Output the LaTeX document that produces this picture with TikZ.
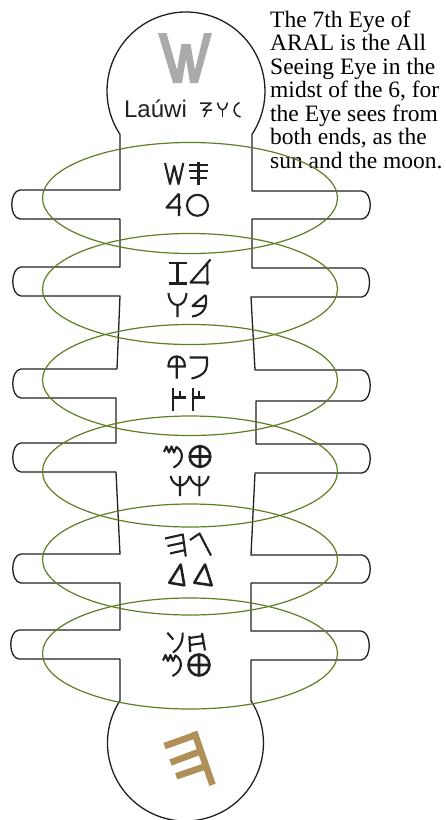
\documentclass[tikz,border=0pt]{standalone}
\usepackage{fontspec}
\setmainfont{Liberation Serif}
\newfontfamily\lsans{Liberation Sans}
\definecolor{ink}{RGB}{35,31,32}
\definecolor{ring}{RGB}{95,125,35}
\definecolor{wgray}{RGB}{170,170,170}
\definecolor{tanc}{RGB}{176,143,88}
\begin{document}
\begin{tikzpicture}[x=1pt,y=1pt,yscale=-1,
  outline/.style={draw=ink,line width=1.3pt,line join=round},
  eyering/.style={draw=ring,line width=1.2pt},
  gl/.style={draw=ink,line width=2.1pt,line join=round},
  glb/.style={draw=ink,line width=2.6pt,line join=round},
  tanbar/.style={draw=tanc,line width=6.6pt},
  txt/.style={anchor=base west,inner sep=0pt,font=\fontsize{23.5}{23.5}\selectfont}]
\useasboundingbox (0,0) rectangle (445,820);
% body outline
\draw[outline] (120,134.37) -- (120,190) -- (20,190) .. controls (9,191) and (9,218) .. (20,219) -- (120,219)
 -- (120,267) -- (21,267) .. controls (10,268) and (10,295) .. (21,296) -- (120,296)
 -- (117,369) -- (21,369) .. controls (10,370) and (10,397) .. (21,398) -- (116,398)
 -- (116,443) -- (21,443) .. controls (10,444) and (10,471) .. (21,472) -- (116,472)
 -- (120,554) -- (21,554) .. controls (10,555) and (10,582) .. (21,583) -- (120,583)
 -- (120,630) -- (19,630) .. controls (8,631) and (8,658) .. (19,659) -- (120,659)
 -- (120,700.63) arc[start angle=212.9,end angle=-32.9,radius=78]
 -- (251,660) -- (361,660) .. controls (372,659) and (372,632) .. (361,631) -- (251,631)
 -- (251,583) -- (362,583) .. controls (373,582) and (373,556) .. (362,555) -- (251,555)
 -- (255,473) -- (362,473) .. controls (373,472) and (373,445) .. (362,444) -- (256,444)
 -- (256,401) -- (362,401) .. controls (373,400) and (373,371) .. (362,370) -- (255,370)
 -- (251,297) -- (362,297) .. controls (372,296) and (372,269) .. (362,268) -- (252,268)
 -- (252,219) -- (362,219) .. controls (373,218) and (373,192) .. (362,191) -- (252,191)
 -- (252,134.37) arc[start angle=33.3,end angle=-213.3,radius=79] -- cycle;
% big grey W
\fill[wgray] (158,33) -- (166.5,33) -- (177,70) -- (181.5,44) -- (190.5,44) -- (195,70) -- (204,33) -- (212,33)
  -- (198,83) -- (190,83) -- (186,59) -- (182,83) -- (173,83) -- cycle;
\node[anchor=base,inner sep=0pt,font=\lsans\fontsize{24}{24}\selectfont,text=ink] (laname) at (155.5,117) {Laúwi};
% small glyphs after the name
\begin{scope}[draw=ink,line width=1.5pt,line join=round]
\draw (200,103) -- (211,103) -- (203,110) -- (212,110);
\draw (207.5,110) -- (204,117);
\draw (217.5,102.5) .. controls (218.5,107) and (220,109.5) .. (222.5,110) .. controls (225,109.5) and (226.5,107) .. (227.5,102.5);
\draw (222.5,110) -- (222.5,117);
\draw (239.5,102.5) .. controls (235,105) and (233.5,108) .. (234,111) .. controls (234.5,114) and (237,116) .. (240.5,117);
\end{scope}
% text
\node[txt] (t1) at (270,27) {The 7th Eye of};
\node[txt] (t2) at (270,50.5) {ARAL is the All};
\node[txt] (t3) at (270,74) {Seeing Eye in the};
\node[txt] (t4) at (270,97.5) {midst of the 6, for};
\node[txt] (t5) at (270,121) {the Eye sees from};
\node[txt] (t6) at (270,144.5) {both ends, as the};
\node[txt] (t7) at (270,168) {sun and the moon.};
% row 1
\draw[gl] (165,163) -- (170,184) -- (174.2,166) -- (178.5,184) -- (183.3,163);
\draw[gl] (198.5,162) -- (198.5,185) (189,165) -- (208,165) (189,171) -- (208,171) (190,178) -- (207,178);
\draw[gl] (179,193.5) -- (179,216) (179,193.5) -- (166.5,207.5) -- (181,207.5);
\draw[gl] (197.5,205.3) circle[radius=10.5];
% row 2
\draw[gl] (168.5,262.7) -- (186.5,262.7) (168.5,283.5) -- (186.5,283.5) (177.5,262.7) -- (177.5,283.5);
\draw[gl] (210.5,259.5) -- (190.5,282.5) -- (209,282.5) (207.3,262) -- (207.3,285);
\draw[gl] (168.5,293) .. controls (169,301) and (173,305) .. (177.5,305) .. controls (182,305) and (186,301) .. (186.5,293) (177.5,305) -- (177.5,317);
\draw[gl] (205.5,295) -- (192.5,306) -- (206.5,306) (205.5,295) .. controls (208,306) and (204,315) .. (192,316.5);
% row 3
\draw[gl] (168.3,366.5) .. controls (168.3,353) and (185,353) .. (185,366.5) -- cycle (176.7,356.5) -- (176.7,378.5);
\draw[gl] (189.5,357.5) -- (207,357.5) -- (207,365) .. controls (207,372) and (200,377) .. (191.5,378.5);
\foreach \xo in {173.3,192.7}{
  \draw[gl] (\xo,388) -- (\xo,411) (\xo,397.5) -- (\xo+6.5,397.5) -- (\xo+6.5,390.5) (\xo+6.5,397.5) -- (\xo+12.5,397.5);
}
% row 4
\draw[gl] (164,452) -- (166.5,446.5) -- (169,452.5) -- (171.5,446.5) -- (174,452.5) -- (176.5,447)
  .. controls (185,452) and (183,463) .. (173.5,467.5);
\draw[glb] (200,456.5) circle[radius=10.3] (189.7,456.5) -- (210.3,456.5) (200,446.2) -- (200,466.8);
\foreach \xc in {180,199.3}{
  \draw[gl] (\xc,476) -- (\xc,496) (\xc-9.5,476) .. controls (\xc-8,482) and (\xc-4,485.5) .. (\xc,485.5)
    .. controls (\xc+4,485.5) and (\xc+8,482) .. (\xc+9.5,476);
}
% row 5
\draw[gl] (182.7,534) -- (185.8,556.5) (165,538.5) -- (183.2,534.4) (167.5,546) -- (184.3,542.5) (170,553.5) -- (185.4,550);
\draw[gl] (190,540) -- (199.5,533.5) -- (211,555.5);
\draw[glb] (180.7,564.5) -- (169.3,582.7) -- (184.3,585.3) -- cycle;
\draw[glb] (205,564.5) -- (194.3,582.7) -- (211.7,585.3) -- cycle;
% row 6
\draw[gl] (167.3,632.7) -- (173.3,639.5) (182.7,632.7) .. controls (183,642) and (179,649) .. (173,652.5);
\draw[gl] (189.3,636) -- (190.3,652) (202,633) -- (205,650.5) (189.5,638) -- (202.5,636) (190,645) -- (204,643);
\begin{scope}[shift={(-1,208.5)}]
\draw[gl] (164,452) -- (166.5,446.5) -- (169,452.5) -- (171.5,446.5) -- (174,452.5) -- (176.5,447)
  .. controls (185,452) and (183,463) .. (173.5,467.5);
\draw[glb] (200,456.5) circle[radius=10.5] (189.5,456.5) -- (210.5,456.5) (200,446) -- (200,467);
\end{scope}
% tan glyph in the lower circle
\draw[tanbar] (194.2,731.8) -- (212.5,784.8);
\draw[tanbar] (164.5,746) -- (197,734.5);
\draw[tanbar] (170.5,762.5) -- (201.5,751);
\draw[tanbar] (176.2,776.3) -- (206.5,766);
% the six rings
\foreach \yc in {198,289,380,471.5,559.5,653.5}{
  \draw[eyering] (190,\yc) ellipse[x radius=147.5,y radius=55.5];
}
\end{tikzpicture}
\end{document}
